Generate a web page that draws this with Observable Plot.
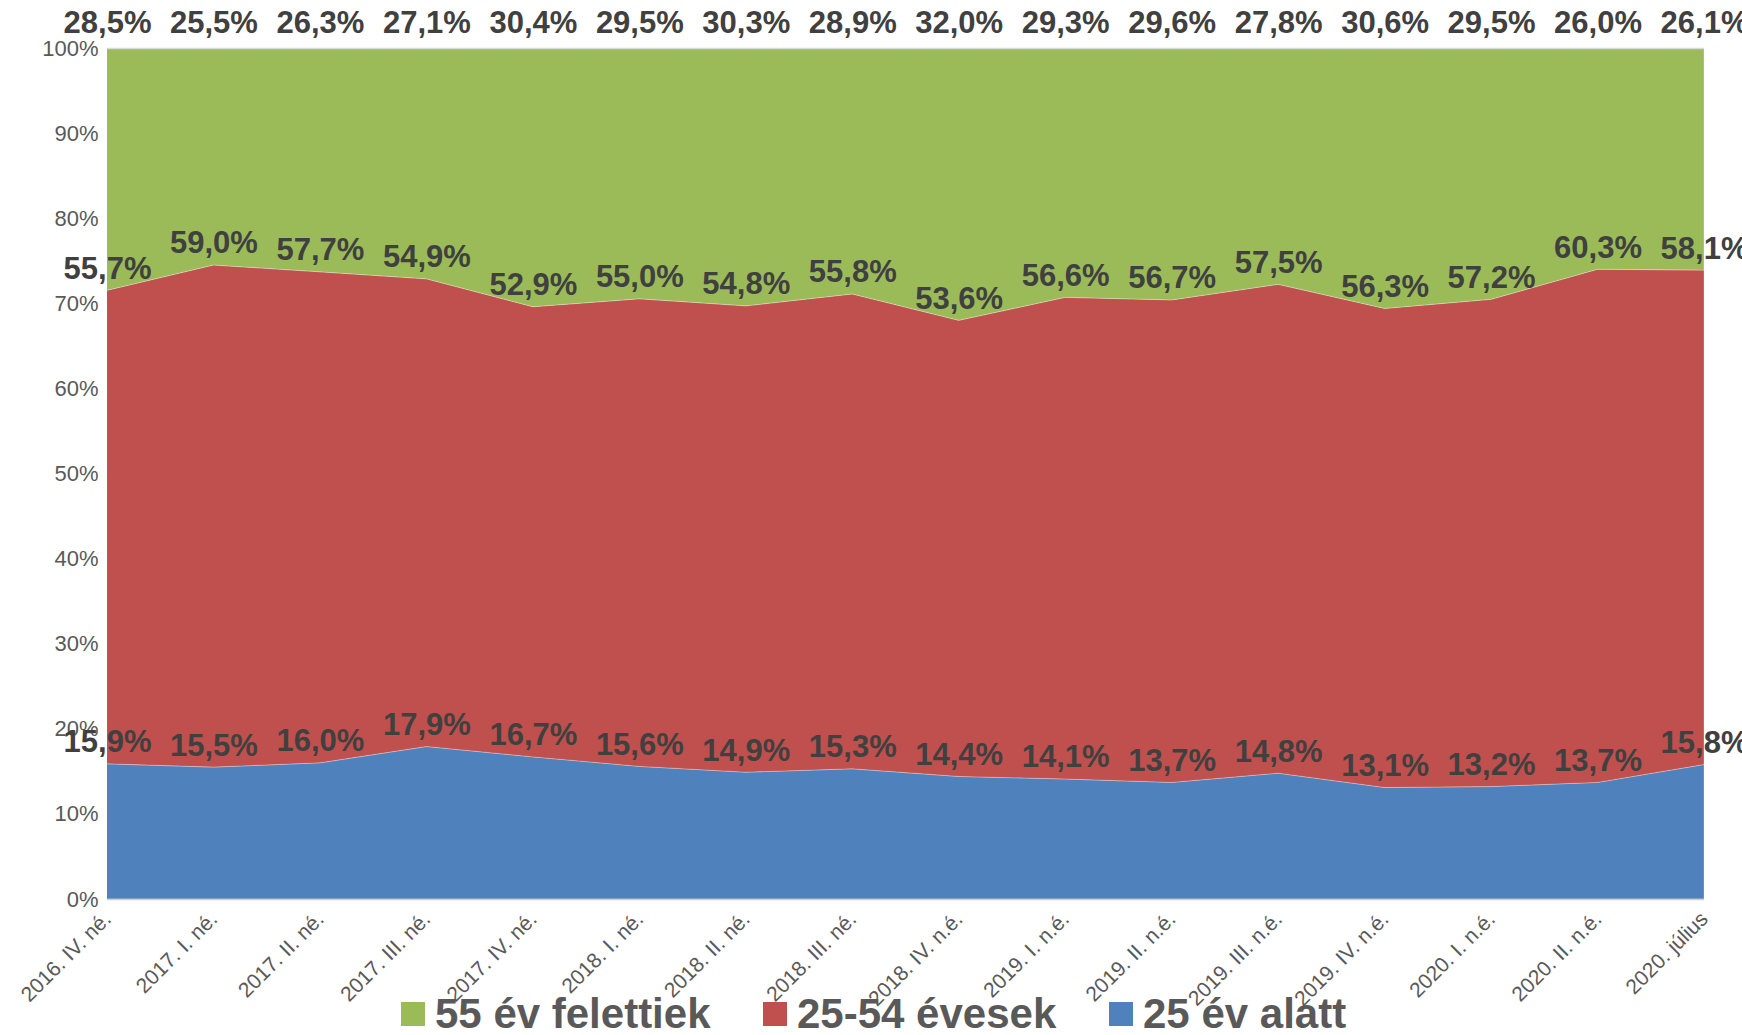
<!DOCTYPE html>
<html>
<head>
<meta charset="utf-8">
<script src="https://cdn.jsdelivr.net/npm/d3@7"></script>
<script src="https://cdn.jsdelivr.net/npm/@observablehq/plot@0.6"></script>
<style>
  html, body { margin: 0; padding: 0; background: #fff; }
  #wrap { position: relative; width: 1742px; height: 1035px; overflow: hidden; }
  #legend { position: absolute; top: 990px; left: 0; width: 1742px; height: 45px;
    font-family: "Liberation Sans", Arial, sans-serif;
    font-weight: bold; font-size: 42px; color: #595959; letter-spacing: 0px; }
  .item { position: absolute; top: 0; display: flex; align-items: center; height: 48px; white-space: nowrap; }
  .sw { width: 24px; height: 24px; margin-right: 10px; }
</style>
</head>
<body>
<div id="wrap">
  <div id="chart"></div>
  <div id="legend"></div>
</div>
<script>
const categories = ["2016. IV. né.", "2017. I. né.", "2017. II. né.", "2017. III. né.", "2017. IV. né.",
  "2018. I. né.", "2018. II. né.", "2018. III. né.", "2018. IV. n.é.", "2019. I. n.é.",
  "2019. II. n.é.", "2019. III. n.é.", "2019. IV. n.é.", "2020. I. n.é.", "2020. II. n.é.", "2020. július"];
const seriesNames = ["25 év alatt", "25-54 évesek", "55 év felettiek"];
const seriesColors = ["#4F81BD", "#C0504D", "#9BBB59"];
const under25 = [15.9, 15.5, 16.0, 17.9, 16.7, 15.6, 14.9, 15.3, 14.4, 14.1, 13.7, 14.8, 13.1, 13.2, 13.7, 15.8];
const age25to54 = [55.7, 59.0, 57.7, 54.9, 52.9, 55.0, 54.8, 55.8, 53.6, 56.6, 56.7, 57.5, 56.3, 57.2, 60.3, 58.1];
const over55 = [28.5, 25.5, 26.3, 27.1, 30.4, 29.5, 30.3, 28.9, 32.0, 29.3, 29.6, 27.8, 30.6, 29.5, 26.0, 26.1];
const yTicks = [0, 0.1, 0.2, 0.3, 0.4, 0.5, 0.6, 0.7, 0.8, 0.9, 1.0];

const seriesValues = [under25, age25to54, over55];
const data = [];
seriesNames.forEach((s, si) => {
  categories.forEach((c, i) => data.push({i, cat: c, series: s, value: seriesValues[si][i]}));
});
const fmt = v => v.toFixed(1).replace(".", ",") + "%";

const stackOpts = {x: "i", y: "value", z: "series", order: seriesNames, offset: "normalize"};
const labelFont = "Liberation Sans, Arial, sans-serif";

const chart = Plot.plot({
  width: 1742,
  height: 1035,
  marginTop: 48,
  marginBottom: 136,
  marginLeft: 107,
  marginRight: 38,
  style: {fontFamily: "Liberation Sans, Arial, sans-serif", background: "transparent", overflow: "visible"},
  x: {type: "linear", domain: [0, categories.length - 1]},
  y: {domain: [0, 1]},
  color: {domain: seriesNames, range: seriesColors},
  marks: [
    Plot.areaY(data, {...stackOpts, fill: "series", stroke: "#ffffff", strokeOpacity: 0.35, strokeWidth: 0.8}),
    Plot.ruleY([0], {stroke: "#cfcfcf", strokeWidth: 1.5}),
    Plot.ruleY([1], {stroke: "#d9d9d9", strokeWidth: 1.5}),
    Plot.axisY({ticks: yTicks, tickFormat: d => Math.round(d * 100) + "%", tickSize: 0, tickPadding: 9,
      fontSize: 22, fill: "#595959", label: null}),
    Plot.axisX({ticks: d3.range(categories.length), tickFormat: i => categories[i], tickRotate: -45,
      tickSize: 0, tickPadding: 16, fontSize: 21, fill: "#595959", label: null}),
    Plot.text(data,
      Plot.stackY2({...stackOpts, text: d => d.series !== "55 év felettiek" ? fmt(d.value) : null,
        dy: -22, fontSize: 31, fontWeight: "bold", fill: "#404040", fontFamily: labelFont})),
    Plot.text(data,
      Plot.stackY2({...stackOpts, text: d => d.series === "55 év felettiek" ? fmt(d.value) : null,
        dy: -25, fontSize: 31, fontWeight: "bold", fill: "#404040", fontFamily: labelFont}))
  ]
});
document.getElementById("chart").appendChild(chart);

// legend
const legendItems = [
  {name: "55 év felettiek", color: "#9BBB59", left: 401},
  {name: "25-54 évesek", color: "#C0504D", left: 763},
  {name: "25 év alatt", color: "#4F81BD", left: 1109}
];
const leg = document.getElementById("legend");
legendItems.forEach(it => {
  const d = document.createElement("div");
  d.className = "item";
  d.style.left = it.left + "px";
  d.innerHTML = `<span class="sw" style="background:${it.color}"></span><span>${it.name}</span>`;
  leg.appendChild(d);
});
</script>
</body>
</html>
